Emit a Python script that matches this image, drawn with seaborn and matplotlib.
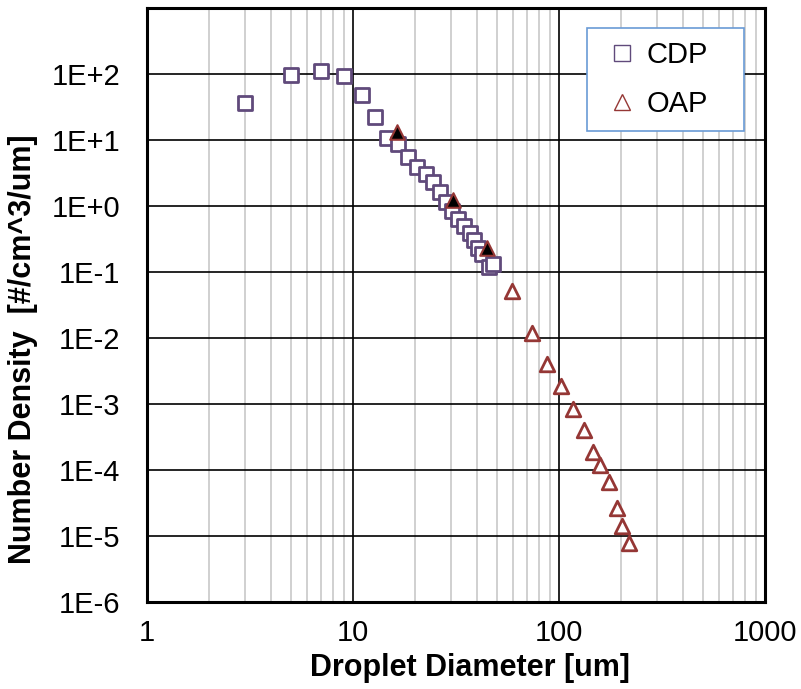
import numpy as np
import pandas as pd
import matplotlib
matplotlib.use('Agg')
import matplotlib.pyplot as plt
from matplotlib.ticker import FuncFormatter, LogLocator, NullFormatter
from matplotlib.lines import Line2D
import seaborn as sns

# ------------------------------------------------------------
# data
# ------------------------------------------------------------
cdp_d = [3.0, 5.0, 7.0, 9.0, 11.0, 12.8, 14.6, 16.6, 18.5, 20.4, 22.5, 24.5,
         26.4, 28.3, 30.1, 32.4, 34.6, 37.0, 38.8, 40.6, 42.1, 45.9, 48.0]
cdp_n = [36.7, 96.6, 112, 93, 48.6, 22.3, 11.0, 8.7, 5.6, 4.0, 3.05, 2.33,
         1.65, 1.16, 0.85, 0.65, 0.50, 0.39, 0.305, 0.237, 0.187, 0.12, 0.135]

oap_d = [58.9, 73.6, 87.7, 102, 116.5, 132, 146, 159, 175, 190.5, 202, 219]
oap_n = [0.052, 0.012, 0.0040, 0.00187, 8.6e-4, 4.0e-4, 1.87e-4, 1.19e-4,
         6.65e-5, 2.7e-5, 1.45e-5, 7.9e-6]

# overlap bins of OAP (drawn filled)
oap_fill_d = [16.3, 30.5, 44.9]
oap_fill_n = [13.4, 1.23, 0.237]

cdp_color = '#604A7B'
oap_color = '#953735'

df_cdp = pd.DataFrame({'d': cdp_d, 'n': cdp_n})
df_oap = pd.DataFrame({'d': oap_d, 'n': oap_n})
df_fill = pd.DataFrame({'d': oap_fill_d, 'n': oap_fill_n})

# ------------------------------------------------------------
# figure
# ------------------------------------------------------------
sns.set_style('white')
plt.rcParams['font.family'] = ['Liberation Sans', 'DejaVu Sans']
plt.rcParams['axes.unicode_minus'] = False
plt.rcParams['text.color'] = 'black'
plt.rcParams['axes.labelcolor'] = 'black'
plt.rcParams['xtick.color'] = 'black'
plt.rcParams['ytick.color'] = 'black'

fig = plt.figure(figsize=(8.01, 6.89), dpi=100)
ax = fig.add_axes([0.1835, 0.126, 0.7715, 0.862])

ax.set_xscale('log')
ax.set_yscale('log')
ax.set_xlim(1, 1000)
ax.set_ylim(1e-6, 1e3)

sns.scatterplot(data=df_cdp, x='d', y='n', ax=ax, marker='s', s=110,
                facecolor='white', edgecolor=cdp_color, linewidth=2.0, zorder=3)
sns.scatterplot(data=df_fill, x='d', y='n', ax=ax, marker='^', s=110,
                facecolor='black', edgecolor=oap_color, linewidth=1.5, zorder=4)
sns.scatterplot(data=df_oap, x='d', y='n', ax=ax, marker='^', s=110,
                facecolor='white', edgecolor=oap_color, linewidth=2.0, zorder=3)

# grid
ax.xaxis.set_minor_locator(LogLocator(base=10, subs=np.arange(2, 10)))
ax.xaxis.set_minor_formatter(NullFormatter())
ax.yaxis.set_minor_locator(plt.NullLocator())
ax.grid(True, which='major', axis='both', color='black', linewidth=1.2)
ax.grid(True, which='minor', axis='x', color='#c8c8c8', linewidth=1.2)
ax.set_axisbelow(True)

ax.set_yticks([10.0 ** k for k in range(-6, 3)])
ax.yaxis.set_major_formatter(FuncFormatter(lambda v, p: f"1E{int(round(np.log10(v))):+d}"))
ax.set_xticks([1, 10, 100, 1000])
ax.xaxis.set_major_formatter(FuncFormatter(lambda v, p: f"{v:g}"))
ax.tick_params(axis='both', which='both', length=0, labelsize=21)
ax.tick_params(axis='y', pad=19)
ax.tick_params(axis='x', pad=12)

for sp in ax.spines.values():
    sp.set_color('black')
    sp.set_linewidth(2.2)

ax.set_xlabel('Droplet Diameter [um]', fontsize=22, fontweight='bold')
ax.set_ylabel('Number Density  [#/cm^3/um]', fontsize=22, fontweight='bold')
ax.xaxis.label.set_va('center')
ax.yaxis.label.set_va('center')
ax.xaxis.set_label_coords(0.5235, -0.111)
ax.yaxis.set_label_coords(-0.2, 0.426)

handles = [
    Line2D([], [], linestyle='none', marker='s', markersize=11,
           markerfacecolor='white', markeredgecolor=cdp_color, markeredgewidth=1.0),
    Line2D([], [], linestyle='none', marker='^', markersize=11,
           markerfacecolor='white', markeredgecolor=oap_color, markeredgewidth=1.0),
]
leg = ax.legend(handles, ['CDP', 'OAP'], loc='upper left', fontsize=21,
                bbox_to_anchor=(0.712, 0.7663, 0.254, 0.2), mode='expand',
                fancybox=False, framealpha=1,
                handlelength=1.5, handletextpad=0.1, borderpad=0.45,
                labelspacing=0.7, borderaxespad=0)
leg.get_frame().set_edgecolor('#6a9bd6')
leg.get_frame().set_linewidth(1.2)

fig.savefig('out.png', dpi=100)
